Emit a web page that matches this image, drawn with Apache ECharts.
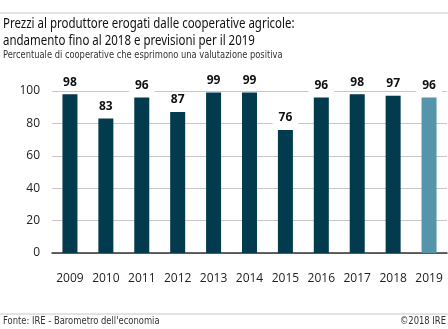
<!DOCTYPE html>
<html><head><meta charset="utf-8">
<script src="https://cdn.jsdelivr.net/npm/echarts@6/dist/echarts.min.js"></script>
<style>html,body{margin:0;padding:0;background:#fff}#c{width:448px;height:329px}</style>
</head><body><div id="c"></div>
<script>
const years = ['2009','2010','2011','2012','2013','2014','2015','2016','2017','2018','2019'];
const values = [98,83,96,87,99,99,76,96,98,97,96];
const forecastYear = '2019';
const yTicks = [0,20,40,60,80,100];

const dark = '#023a4e', light = '#5495ac';
const chart = echarts.init(document.getElementById('c'));
function txt(x,y,s,font,sx,align,fill){
  return {type:'text',x:x,y:y,scaleX:sx,style:{text:s,font:font,fill:fill||'#222',align:align||'left',verticalAlign:'top'}};
}
chart.setOption({
  animation:false,
  textStyle:{fontFamily:'Open Sans'},
  graphic:[
    {type:'line',shape:{x1:0,y1:13,x2:448,y2:13},style:{stroke:'#c8c8c8',lineWidth:1}},
    txt(3,16,'Prezzi al produttore erogati dalle cooperative agricole:','15px "Noto Sans"',0.765,'left','#111'),
    txt(3,33,'andamento fino al 2018 e previsioni per il 2019','15px "Noto Sans"',0.765,'left','#111'),
    txt(3,50,'Percentuale di cooperative che esprimono una valutazione positiva','10.5px "DejaVu Sans Condensed"',0.88,'left','#333'),
    {type:'line',shape:{x1:0,y1:314,x2:448,y2:314},style:{stroke:'#c8c8c8',lineWidth:1}},
    txt(3,316,"Fonte: IRE - Barometro dell'economia",'10.5px "DejaVu Sans Condensed"',0.89,'left','#333'),
    txt(446,316,'©2018 IRE','10.5px "DejaVu Sans Condensed"',0.89,'right','#333')
  ],
  grid:{left:52,right:1,top:91,bottom:76},
  xAxis:{type:'category',data:years,
    axisLine:{lineStyle:{color:'#333',width:1.5}},axisTick:{show:false},
    axisLabel:{margin:20,fontSize:12,color:'#222',fontFamily:'Open Sans'}},
  yAxis:{type:'value',min:0,max:100,interval:20,
    axisLabel:{fontSize:12,color:'#222',margin:12,fontFamily:'Open Sans'},
    splitLine:{lineStyle:{color:'#c8c8c8'}}},
  series:[{type:'bar',barWidth:15,
    data:values.map((v,i)=>({value:v,itemStyle:{color:years[i]===forecastYear?light:dark}})),
    label:{show:true,position:'top',distance:5,fontWeight:'bold',fontSize:12,color:'#111',
      backgroundColor:'#fff',padding:[2,6,1,6],fontFamily:'Open Sans'}
  }]
});
</script></body></html>
